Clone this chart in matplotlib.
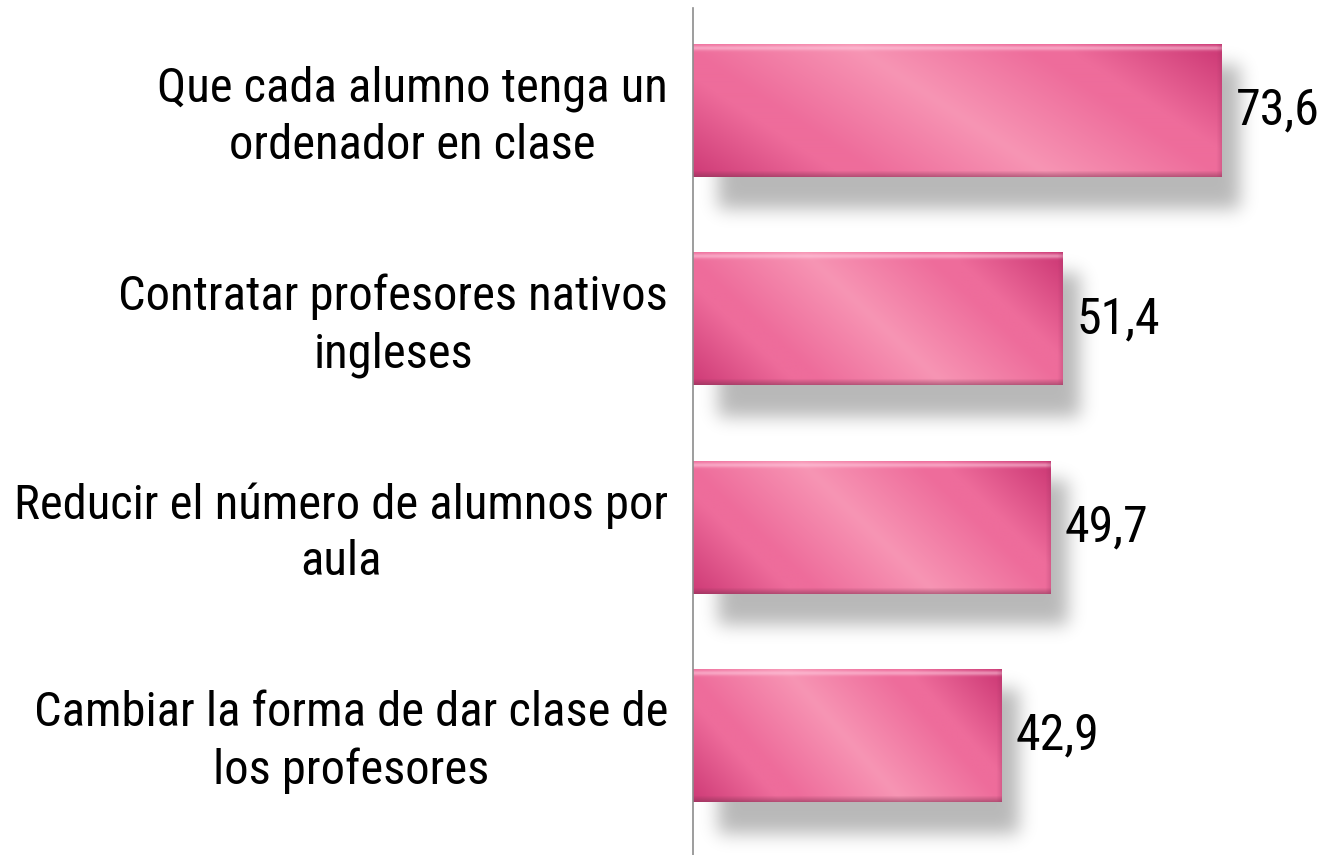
import numpy as np
import matplotlib.pyplot as plt
from matplotlib.colors import to_rgb

# Data (top to bottom)
categories = [
    "Que cada alumno tenga un\nordenador en clase",
    "Contratar profesores nativos\ningleses",
    "Reducir el número de alumnos por\naula",
    "Cambiar la forma de dar clase de\nlos profesores",
]
values = [73.6, 51.4, 49.7, 42.9]
value_labels = ["73,6", "51,4", "49,7", "42,9"]

FONT = ['Roboto Condensed', 'Archivo Narrow', 'Liberation Sans', 'DejaVu Sans']
plt.rcParams['font.family'] = FONT

W, H, DPI = 13.24, 8.55, 100
BAR_H = 0.634

dark = np.array(to_rgb('#c93371'))
mid = np.array(to_rgb('#ee6c9b'))
light = np.array(to_rgb('#f795b4'))


def blur1d(a, sigma, axis):
    r = int(3 * sigma)
    k = np.exp(-0.5 * (np.arange(-r, r + 1) / sigma) ** 2)
    k /= k.sum()
    return np.apply_along_axis(lambda m: np.convolve(m, k, mode='same'), axis, a)


def bar_image(wpx, hpx):
    """glossy pink gradient with a small bevel"""
    xx, yy = np.meshgrid(np.arange(wpx) / max(wpx - 1, 1), np.arange(hpx) / max(hpx - 1, 1))
    # diagonal light band from upper-left to lower-right
    s = xx - (0.3 + 0.38 * yy)
    t = np.clip(np.abs(s) / 0.72, 0, 1)
    t1 = np.clip(t / 0.45, 0, 1)[..., None]
    t2 = np.clip((t - 0.55) / 0.45, 0, 1)[..., None]
    col = light * (1 - t1) + mid * t1
    col = col * (1 - t2) + dark * t2
    ypx = yy * (hpx - 1)
    xpx = xx * (wpx - 1)
    # top highlight strip
    e = np.exp(-((ypx - 3.5) / 2.4) ** 2)[..., None]
    col = col * (1 - 0.55 * e) + np.array([1.0, 0.8, 0.88]) * 0.55 * e
    # bottom dark bevel
    b = np.clip((ypx - (hpx - 7)) / 6, 0, 1)[..., None]
    col = col * (1 - 0.5 * b) + np.array([0.5, 0.2, 0.32]) * 0.5 * b
    # right edge bevel
    r = np.clip((xpx - (wpx - 6)) / 6, 0, 1)[..., None]
    col = col * (1 - 0.3 * r) + np.array([0.6, 0.2, 0.38]) * 0.3 * r
    img = np.ones((hpx, wpx, 4))
    img[..., :3] = np.clip(col, 0, 1)
    return img


def shadow_image(wpx, hpx, pad, sigma=9):
    a = np.zeros((hpx + 2 * pad, wpx + 2 * pad))
    a[pad:pad + hpx, pad:pad + wpx] = 1.0
    a = blur1d(a, sigma, 0)
    a = blur1d(a, sigma, 1)
    img = np.zeros(a.shape + (4,))
    img[..., 3] = 0.28 * a
    return img


fig = plt.figure(figsize=(W, H), dpi=DPI)
ax = fig.add_axes([693 / 1324, 0.0, 1 - 693 / 1324, 1 - 8 / 855])
ypos = np.arange(len(values))[::-1].astype(float)
YMIN, YMAX, XMAX = -0.572, 3.494, 87.8

ax_w = (1 - 693 / 1324) * W * DPI
ax_h = (1 - 8 / 855) * H * DPI
px_x = ax_w / XMAX
px_y = ax_h / (YMAX - YMIN)

for y, v, lab in zip(ypos, values, value_labels):
    wpx = int(round(v * px_x))
    hpx = int(round(BAR_H * px_y))
    # shadow: rectangle shifted right/down, blurred
    pad = 30
    sx0, sx1 = 25, wpx + 18
    sy0, sy1 = 20, hpx + 32
    sh = shadow_image(sx1 - sx0, sy1 - sy0, pad)
    x0 = (sx0 - pad) / px_x
    x1 = (sx1 + pad) / px_x
    top = y + BAR_H / 2
    ytop = top - (sy0 - pad) / px_y
    ybot = top - (sy1 + pad) / px_y
    ax.imshow(sh, extent=(x0, x1, ybot, ytop), aspect='auto', zorder=1, interpolation='bilinear')
    ax.imshow(bar_image(wpx, hpx), extent=(0, v, y - BAR_H / 2, y + BAR_H / 2),
              aspect='auto', zorder=2, interpolation='bilinear')
    ax.text(v + 14 / px_x, y, lab, fontsize=36, va='center', ha='left', zorder=3)

ax.set_ylim(YMIN, YMAX)
ax.set_xlim(0, XMAX)
ax.set_yticks(ypos + 0.02)
ax.set_yticklabels(categories, fontsize=35, multialignment='center', linespacing=1.3)
ax.tick_params(axis='y', length=0, pad=18)
ax.set_xticks([])
for side in ['top', 'right', 'bottom']:
    ax.spines[side].set_visible(False)
ax.spines['left'].set_color('#8c8c8c')
ax.spines['left'].set_linewidth(1.2)
ax.patch.set_alpha(0)

fig.savefig('out.png', dpi=DPI)
